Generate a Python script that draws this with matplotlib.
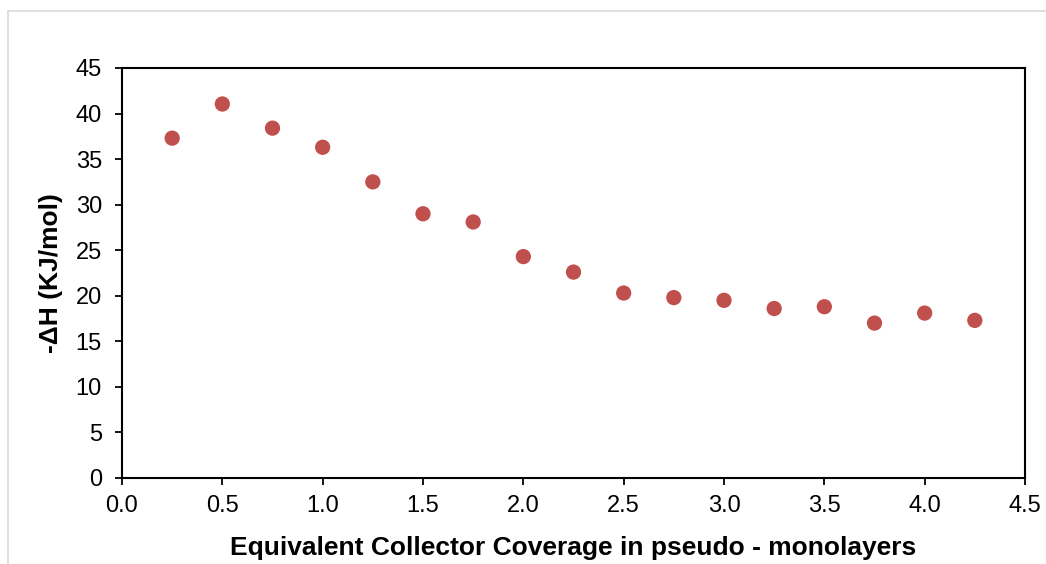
import matplotlib
matplotlib.use("Agg")
import matplotlib.pyplot as plt
from matplotlib.lines import Line2D

coverage = [0.25, 0.5, 0.75, 1.0, 1.25, 1.5, 1.75, 2.0, 2.25, 2.5, 2.75, 3.0, 3.25, 3.5, 3.75, 4.0, 4.25]
neg_dH = [37.3, 41.05, 38.4, 36.3, 32.5, 29.0, 28.1, 24.3, 22.6, 20.3, 19.8, 19.5, 18.6, 18.8, 17.0, 18.1, 17.3]

x_ticks = [0.0, 0.5, 1.0, 1.5, 2.0, 2.5, 3.0, 3.5, 4.0, 4.5]
y_ticks = [0, 5, 10, 15, 20, 25, 30, 35, 40, 45]

plt.rcParams['font.family'] = ['Liberation Sans', 'DejaVu Sans']

W, H = 1046, 564
fig = plt.figure(figsize=(W / 100, H / 100), dpi=100)
ax = fig.add_axes([122 / W, 1 - 478 / H, (1025 - 122) / W, (478 - 68) / H])

ax.scatter(coverage, neg_dH, s=11 ** 2, color='#C0504D', edgecolors='none', zorder=3)

ax.set_xlim(0, 4.5)
ax.set_ylim(0, 45)
ax.set_xticks(x_ticks)
ax.set_xticklabels([f"{v:.1f}" for v in x_ticks])
ax.set_yticks(y_ticks)
ax.tick_params(direction='out', length=5, width=1.3, labelsize=17, colors='black')
ax.tick_params(axis='x', pad=7)
ax.tick_params(axis='y', pad=9.5)
for s in ax.spines.values():
    s.set_linewidth(1.5)
    s.set_color('black')

ax.set_xlabel('Equivalent Collector Coverage in pseudo - monolayers', fontsize=19, fontweight='bold', labelpad=14)
ax.set_ylabel('-ΔH (KJ/mol)', fontsize=19, fontweight='bold', labelpad=9)

# light gray frame of the chart area
fig.add_artist(Line2D([8 / W, 1], [1 - 11 / H, 1 - 11 / H], transform=fig.transFigure, color='#D9D9D9', lw=1.2))
fig.add_artist(Line2D([8 / W, 8 / W], [0, 1 - 11 / H], transform=fig.transFigure, color='#D9D9D9', lw=1.2))

fig.savefig('out.png', dpi=100, facecolor='white')
